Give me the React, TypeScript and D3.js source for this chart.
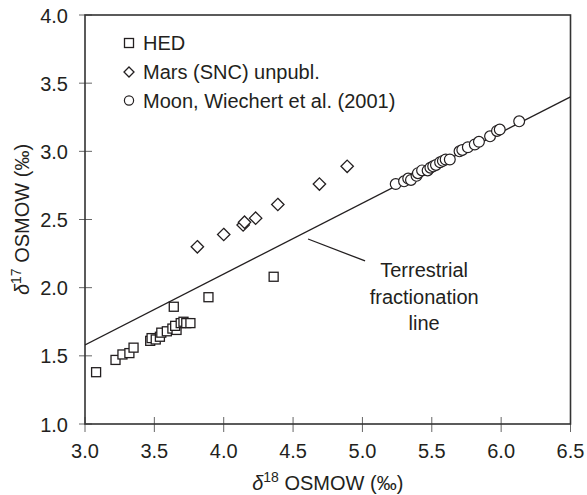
import React from "react";
import * as d3 from "d3";

// Oxygen three-isotope data (δ18O vs δ17O, ‰ relative to SMOW)
const hedD18 = [3.08, 3.22, 3.27, 3.32, 3.35, 3.47, 3.48, 3.51, 3.54, 3.55, 3.59, 3.63, 3.66, 3.65, 3.69, 3.71, 3.73, 3.76, 3.64, 3.89, 4.36];
const hedD17 = [1.38, 1.47, 1.51, 1.52, 1.56, 1.61, 1.63, 1.62, 1.64, 1.67, 1.68, 1.70, 1.69, 1.72, 1.74, 1.75, 1.74, 1.74, 1.86, 1.93, 2.08];

const marsD18 = [3.81, 4.00, 4.14, 4.15, 4.23, 4.39, 4.69, 4.89];
const marsD17 = [2.30, 2.39, 2.46, 2.48, 2.51, 2.61, 2.76, 2.89];

const moonD18 = [5.24, 5.30, 5.33, 5.35, 5.39, 5.40, 5.43, 5.47, 5.49, 5.51, 5.53, 5.56, 5.58, 5.60, 5.63, 5.70, 5.72, 5.76, 5.81, 5.84, 5.92, 5.97, 5.99, 6.13];
const moonD17 = [2.76, 2.78, 2.80, 2.79, 2.82, 2.84, 2.86, 2.86, 2.88, 2.89, 2.90, 2.92, 2.93, 2.94, 2.94, 3.00, 3.01, 3.03, 3.05, 3.07, 3.11, 3.15, 3.16, 3.22];

// Terrestrial fractionation line: δ17O = slope · δ18O + intercept
const tflSlope = 0.52;
const tflIntercept = 0.02;

const xTicks = [3.0, 3.5, 4.0, 4.5, 5.0, 5.5, 6.0, 6.5];
const yTicks = [1.0, 1.5, 2.0, 2.5, 3.0, 3.5, 4.0];

const legendLabels = ["HED", "Mars (SNC) unpubl.", "Moon, Wiechert et al. (2001)"];
const noteLines = ["Terrestrial", "fractionation", "line"];

const W = 587;
const H = 495;
const FONT = "'Liberation Sans', Arial, Helvetica, sans-serif";
const INK = "#231f20";

export default function App() {
  const x = d3.scaleLinear().domain([3.0, 6.5]).range([85, 570.5]);
  const y = d3.scaleLinear().domain([1.0, 4.0]).range([424, 15]);
  const [x0, x1] = x.range();
  const [yb, yt] = y.range();

  const tfl = d3
    .line<number>()
    .x((d) => x(d))
    .y((d) => y(tflSlope * d + tflIntercept));

  const sq = 9;
  const dia = 6.2;
  const rad = 5.4;

  const square = (cx: number, cy: number, k: string) => (
    <rect key={k} x={cx - sq / 2} y={cy - sq / 2} width={sq} height={sq} fill="#fff" stroke={INK} strokeWidth={1.3} />
  );
  const diamond = (cx: number, cy: number, k: string, s = dia) => (
    <path key={k} d={`M${cx},${cy - s}L${cx + s},${cy}L${cx},${cy + s}L${cx - s},${cy}Z`} fill="#fff" stroke={INK} strokeWidth={1.3} />
  );
  const circle = (cx: number, cy: number, k: string, r = rad) => (
    <circle key={k} cx={cx} cy={cy} r={r} fill="#fff" stroke={INK} strokeWidth={1.2} />
  );

  const legendX = 129;
  const legendYs = [43, 72, 100.5];

  return (
    <svg width={W} height={H} style={{ position: "absolute", left: 0, top: 0, background: "#fff" }} fontFamily={FONT}>
      <rect width={W} height={H} fill="#fff" />
      <defs>
        <clipPath id="plotArea">
          <rect x={x0} y={yt} width={x1 - x0} height={yb - yt} />
        </clipPath>
      </defs>

      {/* ticks crossing the axes */}
      {xTicks.map((t) => (
        <line key={`xt${t}`} x1={x(t)} x2={x(t)} y1={yb - 7} y2={yb + 8} stroke="#666" strokeWidth={1} />
      ))}
      {yTicks.map((t) => (
        <line key={`yt${t}`} x1={x0 - 6} x2={x0 + 7} y1={y(t)} y2={y(t)} stroke="#666" strokeWidth={1} />
      ))}

      {/* tick labels */}
      {xTicks.map((t) => (
        <text key={`xl${t}`} x={x(t)} y={yb + 34} textAnchor="middle" fontSize={20} fill={INK}>
          {d3.format(".1f")(t)}
        </text>
      ))}
      {yTicks.map((t) => (
        <text key={`yl${t}`} x={x0 - 17} y={y(t) + 7.5} textAnchor="end" fontSize={20} fill={INK}>
          {d3.format(".1f")(t)}
        </text>
      ))}

      {/* frame */}
      <rect x={x0} y={yt} width={x1 - x0} height={yb - yt} fill="none" stroke="#333" strokeWidth={1.6} />

      {/* terrestrial fractionation line */}
      <path d={tfl([3.0, 6.5]) ?? ""} fill="none" stroke={INK} strokeWidth={1.3} clipPath="url(#plotArea)" />

      {/* leader and note */}
      <line x1={x(4.608)} y1={y(2.357)} x2={x(5.019)} y2={y(2.196)} stroke={INK} strokeWidth={1.3} />
      {noteLines.map((s, i) => (
        <text key={s} x={x(5.445)} y={277 + i * 26.5} textAnchor="middle" fontSize={20} fill={INK}>
          {s}
        </text>
      ))}

      {/* data */}
      <g>
        {hedD18.map((v, i) => square(x(v), y(hedD17[i]), `h${i}`))}
        {marsD18.map((v, i) => diamond(x(v), y(marsD17[i]), `m${i}`))}
        {moonD18.map((v, i) => circle(x(v), y(moonD17[i]), `o${i}`))}
      </g>

      {/* legend */}
      {square(legendX, legendYs[0], "lg0")}
      {diamond(legendX, legendYs[1], "lg1", 5)}
      {circle(legendX, legendYs[2], "lg2", 4.6)}
      {legendLabels.map((s, i) => (
        <text key={s} x={143} y={legendYs[i] + 7.2} fontSize={20} fill={INK}>
          {s}
        </text>
      ))}

      {/* axis titles */}
      <text x={(x0 + x1) / 2} y={490} textAnchor="middle" fontSize={20} fill={INK}>
        <tspan fontStyle="italic">δ</tspan>
        <tspan fontSize={14} dy={-8}>18</tspan>
        <tspan dy={8}> OSMOW (‰)</tspan>
      </text>
      <text
        transform={`translate(29,${(yt + yb) / 2}) rotate(-90)`}
        textAnchor="middle"
        fontSize={20}
        fill={INK}
      >
        <tspan fontStyle="italic">δ</tspan>
        <tspan fontSize={14} dy={-8}>17</tspan>
        <tspan dy={8}> OSMOW (‰)</tspan>
      </text>
    </svg>
  );
}
